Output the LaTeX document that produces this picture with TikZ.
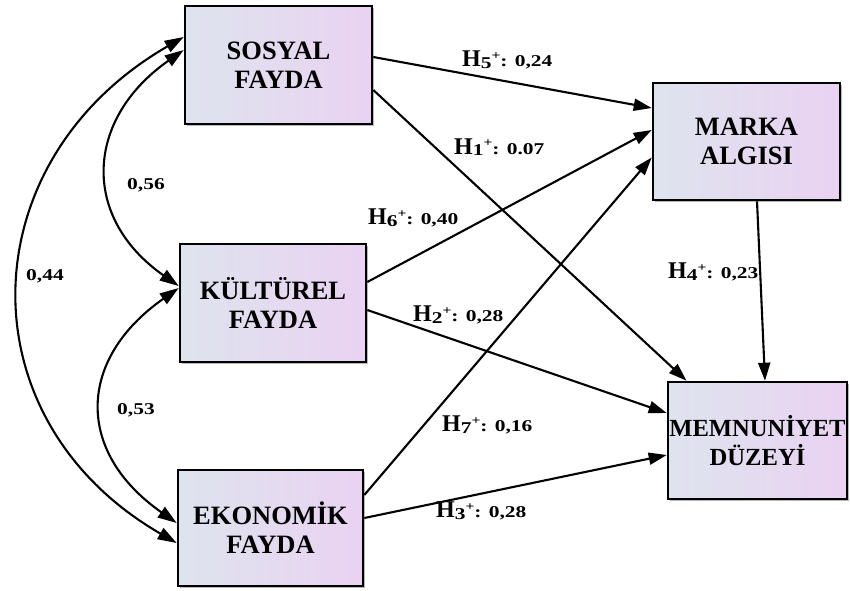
\documentclass[tikz,border=0pt]{standalone}
\usepackage{fontspec}
\setmainfont{Liberation Serif}
\newfontfamily\lblfont[FakeStretch=1.3]{Liberation Serif Bold}
\usetikzlibrary{arrows.meta,shadows,calc}
\definecolor{boxleft}{RGB}{222,228,238}
\definecolor{boxright}{RGB}{234,210,242}
\newcommand\hyp[2]{{\bfseries\fontsize{24}{24}\selectfont H}{\lblfont\fontsize{16.5}{16.5}\selectfont\raisebox{-1.5pt}{#1}\raisebox{7.5pt}{\fontsize{12}{12}\selectfont +}: #2}}
\newcommand\cov[1]{{\lblfont\fontsize{16.5}{16.5}\selectfont #1}}
\tikzset{
  box/.style={draw=black, line width=2.6pt, minimum width=#1, inner sep=0pt,
    left color=boxleft, right color=boxright,
    drop shadow={shadow xshift=2pt, shadow yshift=-2pt, fill=gray!70, opacity=0.8},
    font=\bfseries\fontsize{26.5}{29}\selectfont, align=center},
  arr/.style={line width=2.1pt, -{Triangle[length=18pt,width=12pt]}},
  darr/.style={line width=2.1pt, {Triangle[length=19pt,width=12.5pt]}-{Triangle[length=19pt,width=12.5pt]}},
  lbl/.style={anchor=west, inner sep=0pt}
}
\begin{document}
\begin{tikzpicture}[x=1pt,y=-1pt]
\useasboundingbox (0,0) rectangle (850,590);
\node[box=187pt, minimum height=118pt] (sos) at (278.5,65) {SOSYAL\\FAYDA};
\node[box=186pt, minimum height=118pt] (kul) at (273,303) {KÜLTÜREL\\FAYDA};
\node[box=185pt, minimum height=116pt] (eko) at (270.5,528) {EKONOMİK\\FAYDA};
\node[box=187pt, minimum height=117pt] (mar) at (746.5,141.5) {MARKA\\ALGISI};
\node[box=179pt, minimum height=117pt, font=\bfseries\fontsize{24.6}{29}\selectfont] (mem) at (757.5,440.5) {MEMNUNİYET\\DÜZEYİ};

% structural paths
\draw[arr] ([yshift=8pt]sos.east) -- ([yshift=33.5pt]mar.west);
\draw[arr] ([yshift=-25pt]sos.east) -- ([xshift=-71pt]mem.north);
\draw[arr] ([yshift=21pt]kul.east) -- ([yshift=11.5pt]mar.west);
\draw[arr] ([yshift=-7pt]kul.east) -- ([yshift=27.5pt]mem.west);
\draw[arr] ([yshift=33pt]eko.east) -- ([yshift=-16pt]mar.west);
\draw[arr] ([yshift=10pt]eko.east) -- ([yshift=-14.5pt]mem.west);
\draw[arr] ([xshift=10.5pt]mar.south) -- ([xshift=7.5pt]mem.north);

% covariances
\draw[darr] ([yshift=15pt]sos.west) to[out=215,in=145,looseness=1.3] ([yshift=17pt]kul.west);
\draw[darr] ([yshift=15pt]kul.west) to[out=215,in=145,looseness=1.35] ([yshift=5pt]eko.west);
\draw[darr] ([yshift=28pt]sos.west) to[out=210,in=150,looseness=1.25] ([yshift=-15pt]eko.west);

% labels
\node[lbl] (l5) at (462,60) {\hyp{5}{0,24}};
\node[lbl] (l1) at (454,147) {\hyp{1}{0.07}};
\node[lbl] (l6) at (368,218) {\hyp{6}{0,40}};
\node[lbl] (l2) at (413,315) {\hyp{2}{0,28}};
\node[lbl] (l7) at (442,425) {\hyp{7}{0,16}};
\node[lbl] (l3) at (436,511) {\hyp{3}{0,28}};
\node[lbl] (l4) at (668,272) {\hyp{4}{0,23}};
\node[lbl] (c56) at (127,185) {\cov{0,56}};
\node[lbl] (c44) at (26,276) {\cov{0,44}};
\node[lbl] (c53) at (117,410) {\cov{0,53}};
\end{tikzpicture}
\end{document}
